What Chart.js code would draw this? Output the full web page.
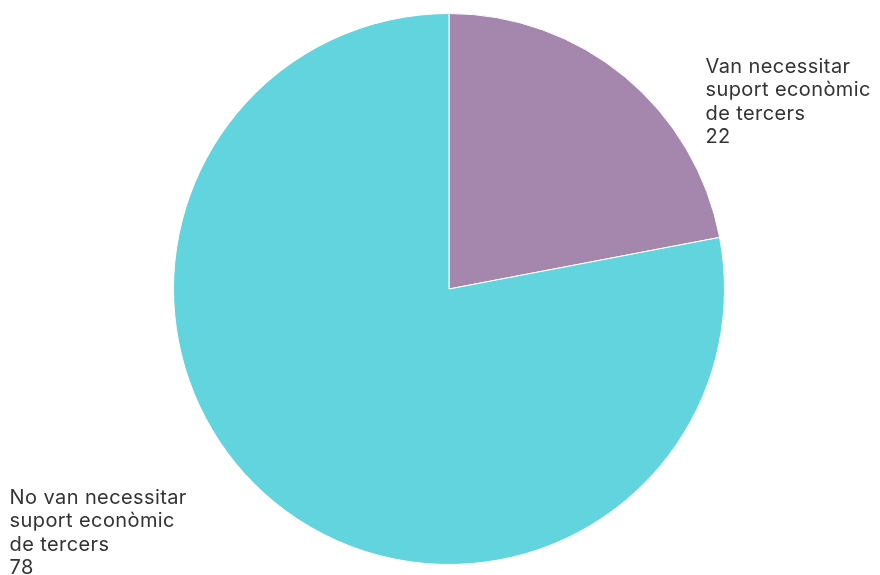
<!DOCTYPE html>
<html>
<head>
<meta charset="utf-8">
<script src="https://cdn.jsdelivr.net/npm/chart.js@4.4.1/dist/chart.umd.min.js"></script>
<style>
  html, body { margin: 0; padding: 0; background: #fff; }
  #wrap { width: 880px; height: 575px; }
</style>
</head>
<body>
<div id="wrap"><canvas id="chart"></canvas></div>
<script>
const labels = [
  ['Van necessitar', 'suport econòmic', 'de tercers'],
  ['No van necessitar', 'suport econòmic', 'de tercers']
];
const values = [22, 78];
const colors = ['#a586ac', '#62d4de'];

// where each label block sits, relative to the pie centre and radius
const labelSpots = [
  { dx: 0.931, dy: -0.785 },
  { dx: -1.595, dy: 0.78 }
];

const sliceLabels = {
  id: 'sliceLabels',
  afterDraw(chart) {
    const ctx = chart.ctx;
    const meta = chart.getDatasetMeta(0);
    ctx.save();
    ctx.font = '20px Inter';
    ctx.letterSpacing = '0.4px';
    ctx.fillStyle = '#333333';
    ctx.textAlign = 'left';
    ctx.textBaseline = 'alphabetic';
    meta.data.forEach((arc, i) => {
      const r = arc.outerRadius;
      const x = arc.x + labelSpots[i].dx * r;
      let y = arc.y + labelSpots[i].dy * r;
      const lines = labels[i].concat(String(values[i]));
      lines.forEach(line => {
        ctx.fillText(line, x, y);
        y += 23.4;
      });
    });
    ctx.restore();
  }
};

new Chart(document.getElementById('chart'), {
  type: 'pie',
  data: {
    labels: labels.map(l => l.join(' ')),
    datasets: [{
      data: values,
      backgroundColor: colors,
      borderColor: '#ffffff',
      borderWidth: 1
    }]
  },
  options: {
    responsive: true,
    maintainAspectRatio: false,
    animation: false,
    layout: { padding: { left: 18, right: 0, top: 13, bottom: 10 } },
    plugins: {
      legend: { display: false },
      tooltip: { enabled: false }
    }
  },
  plugins: [sliceLabels]
});
</script>
</body>
</html>
